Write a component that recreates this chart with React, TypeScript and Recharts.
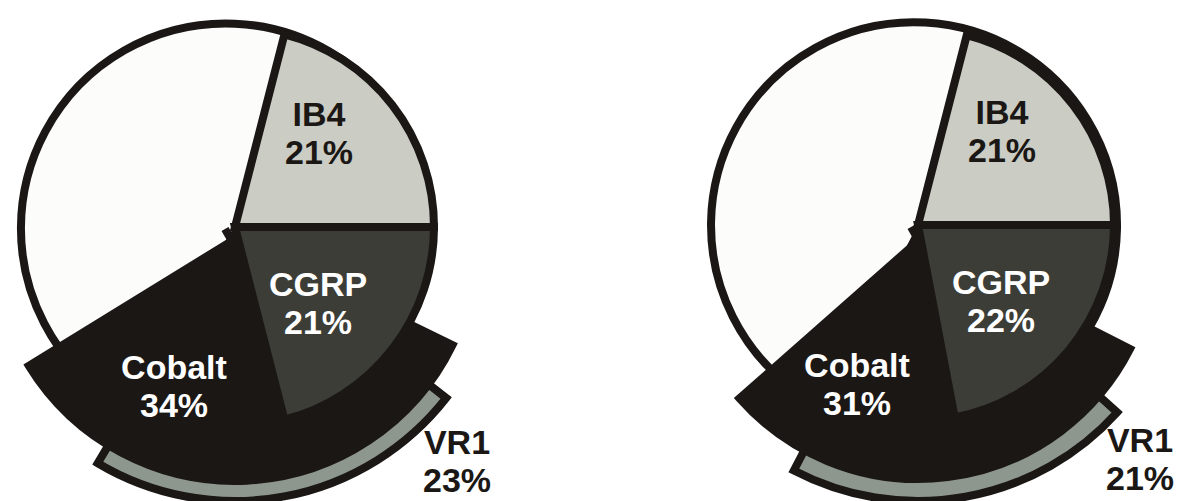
import { PieChart, Pie, Cell } from "recharts";

// Share of labelled neurons per marker, two ganglia side by side
const markers = ["IB4", "CGRP", "Cobalt", "VR1"];
const leftPct = [21, 21, 34, 23];
const rightPct = [21, 22, 31, 21];

const FONT = '"Liberation Sans", Arial, sans-serif';
const INK = "#1b1715";

const fills: Record<string, string> = {
  IB4: "#cbccc4",
  CGRP: "#3c3d37",
  Cobalt: INK,
  VR1: "#8e978d",
};
const textFill: Record<string, string> = {
  IB4: INK,
  CGRP: "#ffffff",
  Cobalt: "#ffffff",
  VR1: INK,
};
// label offsets from the pie centre: [dx, first baseline dy]
const labelAt: Record<string, [number, number]> = {
  IB4: [89, -96],
  CGRP: [88, 74],
  Cobalt: [-56, 157],
  VR1: [227, 232],
};

// back to front
const drawOrder = ["VR1", "Cobalt", "IB4", "CGRP"];

interface Wedge {
  cx: number;
  cy: number;
  r: number;
  start: number;
  sweep: 1 | -1;
}
interface Layout {
  base: { cx: number; cy: number; r: number };
  wedges: Record<string, Wedge>;
}

const leftLayout: Layout = {
  base: { cx: 220, cy: 224, r: 205 },
  wedges: {
    IB4: { cx: 230, cy: 222, r: 199, start: 0, sweep: 1 },
    CGRP: { cx: 230, cy: 222, r: 199, start: 0, sweep: -1 },
    Cobalt: { cx: 230, cy: 234, r: 242, start: -26, sweep: -1 },
    VR1: { cx: 230, cy: 228, r: 268, start: -38, sweep: -1 },
  },
};

const rightLayout: Layout = {
  base: { cx: 314, cy: 222, r: 203 },
  wedges: {
    IB4: { cx: 321, cy: 220, r: 196, start: 0, sweep: 1 },
    CGRP: { cx: 321, cy: 220, r: 196, start: 0, sweep: -1 },
    Cobalt: { cx: 321, cy: 236, r: 238, start: -27, sweep: -1 },
    VR1: { cx: 321, cy: 228, r: 268, start: -42, sweep: -1 },
  },
};

function MarkerLabel({ x, y, name, value }: { x: number; y: number; name: string; value: number }) {
  return (
    <text
      x={x}
      y={y}
      textAnchor="middle"
      fontFamily={FONT}
      fontWeight="bold"
      fontSize={34}
      fill={textFill[name]}
    >
      <tspan x={x} y={y}>{name}</tspan>
      <tspan x={x} y={y + 38}>{`${value}%`}</tspan>
    </text>
  );
}

function Panel({ values, layout }: { values: number[]; layout: Layout }) {
  const anchor = layout.wedges.IB4;
  return (
    <PieChart width={592} height={501}>
      {/* whole population; its seam points into the Cobalt wedge */}
      <Pie
        data={[{ name: "total", value: 100 }]}
        dataKey="value"
        cx={layout.base.cx}
        cy={layout.base.cy}
        outerRadius={layout.base.r}
        startAngle={-60}
        endAngle={300}
        fill="#fcfcfa"
        stroke={INK}
        strokeWidth={8}
        isAnimationActive={false}
      />
      {drawOrder.map((name) => {
        const v = values[markers.indexOf(name)];
        const g = layout.wedges[name];
        const data = [
          { name, value: v },
          { name: "rest", value: 100 - v },
        ];
        const [dx, dy] = labelAt[name];
        return (
          <Pie
            key={name}
            data={data}
            dataKey="value"
            cx={g.cx}
            cy={g.cy}
            outerRadius={g.r}
            startAngle={g.start}
            endAngle={g.start + 360 * g.sweep}
            isAnimationActive={false}
            labelLine={false}
            label={(p: any) =>
              p.index === 0 ? (
                <MarkerLabel x={anchor.cx + dx} y={anchor.cy + dy} name={name} value={v} />
              ) : null
            }
          >
            <Cell fill={fills[name]} stroke={INK} strokeWidth={8} />
            <Cell fill="none" stroke="none" />
          </Pie>
        );
      })}
    </PieChart>
  );
}

export default function App() {
  return (
    <div
      style={{
        position: "absolute",
        left: 0,
        top: 0,
        width: 1184,
        height: 501,
        display: "flex",
        background: "#ffffff",
        overflow: "hidden",
      }}
    >
      <Panel values={leftPct} layout={leftLayout} />
      <Panel values={rightPct} layout={rightLayout} />
    </div>
  );
}
